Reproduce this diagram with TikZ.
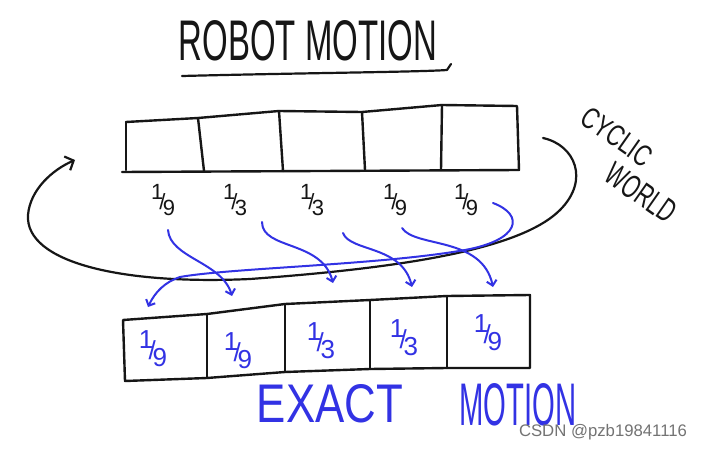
\documentclass[tikz,border=0pt]{standalone}
\usepackage{fontspec}
\setmainfont{Liberation Sans}
\usetikzlibrary{arrows.meta}
\definecolor{ink}{RGB}{22,22,22}
\definecolor{pen}{RGB}{50,50,228}
\newcommand{\fr}[2]{\raisebox{0.42em}{#1}\kern-0.18em/\kern-0.12em\raisebox{-0.28em}{#2}}
\begin{document}
\begin{tikzpicture}[x=1pt,y=-1pt,line cap=round,line join=round,
  blk/.style={draw=ink,line width=2.4pt},
  bluearr/.style={draw=pen,line width=2pt,-{Straight Barb[length=5pt,width=10pt]}},
  toplbl/.style={inner sep=0pt,text=ink,font=\fontsize{22}{22}\selectfont},
  botlbl/.style={inner sep=0pt,text=pen,font=\fontsize{26}{26}\selectfont},
  hand/.style={inner sep=0pt}]
\useasboundingbox (0,0) rectangle (701,449);
\fill[white] (0,0) rectangle (701,449);

% title
\node[hand,text=ink] (title) at (308,41) {\resizebox{258pt}{40pt}{ROBOT MOTION}};
\coordinate (ul0) at (182,76);
\coordinate (ul1) at (447,70);
\coordinate (ul2) at (451,64);
\draw[blk,line width=2.2pt] (ul0) .. controls (300,73) and (420,72) .. (ul1) -- (ul2);

% top row of cells
\coordinate (T0) at (126,122); \coordinate (T1) at (198,118);
\coordinate (T2) at (279,111); \coordinate (T3) at (362,112);
\coordinate (T4) at (442,105); \coordinate (T5) at (517,106);
\coordinate (B0) at (122,172); \coordinate (B1) at (204,171);
\coordinate (B2) at (283,171); \coordinate (B3) at (365,170);
\coordinate (B4) at (441,170); \coordinate (B5) at (519,170);
\draw[blk] (T0) -- (T1) -- (T2) -- (T3) -- (T4) -- (T5) -- (B5) -- (B0);
\draw[blk] (T0) -- (126,170);
\draw[blk] (T1) -- (B1);
\draw[blk] (T2) -- (B2);
\draw[blk] (T3) -- (B3);
\draw[blk] (T4) -- (B4);

% top labels
\node[toplbl] (ta) at (163,200) {\fr{1}{9}};
\node[toplbl] (tb) at (235,200) {\fr{1}{3}};
\node[toplbl] (tc) at (312,200) {\fr{1}{3}};
\node[toplbl] (td) at (395,200) {\fr{1}{9}};
\node[toplbl] (te) at (466,200) {\fr{1}{9}};

% bottom row of cells
\coordinate (U0) at (123,320); \coordinate (U1) at (207,314);
\coordinate (U2) at (285,304); \coordinate (U3) at (370,300);
\coordinate (U4) at (447,296); \coordinate (U5) at (530,295);
\coordinate (L0) at (125,381); \coordinate (L1) at (207,378);
\coordinate (L2) at (285,372); \coordinate (L3) at (370,369);
\coordinate (L4) at (447,368); \coordinate (L5) at (530,368);
\draw[blk] (U0) -- (U1) -- (U2) -- (U3) -- (U4) -- (U5) -- (L5) -- (L4) -- (L3) -- (L2) -- (L1) -- (L0) -- cycle;
\draw[blk] (U1) -- (L1);
\draw[blk] (U2) -- (L2);
\draw[blk] (U3) -- (L3);
\draw[blk] (U4) -- (L4);

% bottom labels
\node[botlbl] (ba) at (153,349) {\fr{1}{9}};
\node[botlbl] (bb) at (238,351) {\fr{1}{9}};
\node[botlbl] (bc) at (321,341) {\fr{1}{3}};
\node[botlbl] (bd) at (404,338) {\fr{1}{3}};
\node[botlbl] (be) at (488,333) {\fr{1}{9}};

% cyclic world arc
\coordinate (c0) at (543,138);
\coordinate (c1) at (560,210);
\coordinate (c2) at (250,279);
\coordinate (c3) at (28,215);
\coordinate (c4) at (75,160);
\draw[blk,line width=2.2pt,-{Straight Barb[length=7pt,width=15pt]}]
  (c0) .. controls (575,145) and (590,180) .. (c1)
       .. controls (520,250) and (400,268) .. (c2)
       .. controls (120,285) and (25,262) .. (c3)
       .. controls (30,190) and (52,170) .. (c4);
\node[hand,text=ink,rotate=-35] (cyc) at (617,137) {\resizebox{80pt}{21pt}{CYCLIC}};
\node[hand,text=ink,rotate=-35] (wld) at (641,193) {\resizebox{78pt}{23pt}{WORLD}};

% blue shift arrows
\coordinate (a1s) at (168,230); \coordinate (a1e) at (232,296);
\coordinate (a2s) at (262,222); \coordinate (a2e) at (333,283);
\coordinate (a3s) at (343,233); \coordinate (a3e) at (412,287);
\coordinate (a4s) at (402,228); \coordinate (a4e) at (493,287);
\coordinate (a5s) at (493,203); \coordinate (a5m) at (465,250);
\coordinate (a5n) at (180,277); \coordinate (a5e) at (148,307);
\draw[bluearr] (a1s) .. controls (170,258) and (222,262) .. (a1e);
\draw[bluearr] (a2s) .. controls (262,250) and (322,240) .. (a2e);
\draw[bluearr] (a3s) .. controls (350,252) and (402,245) .. (a3e);
\draw[bluearr] (a4s) .. controls (415,248) and (482,236) .. (a4e);
\draw[bluearr] (a5s) .. controls (525,215) and (520,240) .. (a5m)
   .. controls (380,265) and (230,268) .. (a5n)
   .. controls (165,282) and (155,292) .. (a5e);

% caption
\node[hand,text=pen] (exact) at (330,404) {\resizebox{146pt}{38pt}{EXACT}};
\node[hand,text=pen] (motion) at (518,405) {\resizebox{117pt}{42pt}{MOTION}};

% watermark
\node[hand,text=black!55] (wm) at (603,432) {\resizebox{168pt}{!}{CSDN @pzb19841116}};
\end{tikzpicture}
\end{document}
